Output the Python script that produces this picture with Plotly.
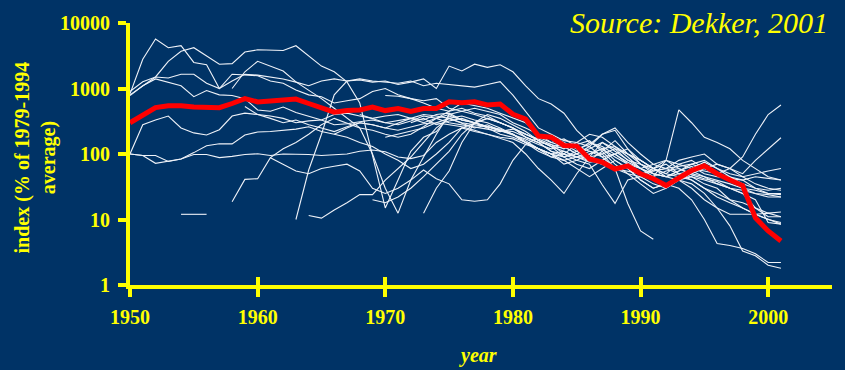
import plotly.graph_objects as go

# ---------------- data ----------------
red_start = 1950
red_mean = [300, 400, 510, 545, 545, 520, 520, 510, 590, 700,
            625, 640, 660, 690, 590, 495, 435, 460, 470, 520,
            460, 495, 445, 495, 495, 625, 605, 625, 560, 580,
            405, 340, 188, 180, 135, 132, 84, 75, 59, 66,
            50, 42, 33, 43, 56, 66, 50, 40, 33, 10.6,
            6.7, 4.7]

s01_start = 1950
s01 = [830, 2800, 5700, 4200, 4500, 2500, 2300, 1000, 1300, 1650,
       1600, 1500, 1400, 1250, 1100, 1300, 1400, 1300, 1350, 1250,
       1300, 1150, 1250, 1400, 1000, 2200, 1850, 2350, 2100, 2300,
       1800, 1100, 700, 580, 420, 230, 150, 130, 100, 75,
       60, 50, 45, 55, 70, 60, 50, 40, 30, 25,
       24, 22]
s02_start = 1950
s02 = [800, 1100, 1500, 2600, 3700, 4200, 3100, 2350, 2400, 3600,
       3900, 3900, 3800, 4500, 3100, 2200, 1800, 1260, 600, 100,
       15, 40, 110, 180, 220, 380, 330, 300, 260, 230,
       200, 150, 120, 100, 110, 90, 80, 110, 160, 100,
       70, 50, 45, 55, 65, 50, 45, 42, 40, 45,
       42, 40]
s03_start = 1950
s03 = [780, 1100, 1400, 1250, 1100, 750, 930, 800, 780, 700,
       470, 450, 520, 430, 380, 330, 280, 290, 310, 330,
       300, 320, 350, 330, 400, 420, 330, 300, 260, 230,
       220, 180, 150, 110, 100, 90, 75, 80, 60, 55,
       50, 45, 55, 60, 48, 42, 38, 30, 25, 15,
       11, 11]
s04_start = 1950
s04 = [900, 1270, 1500, 1450, 1650, 1650, 1200, 1000, 1650, 1600,
       1570, 1300, 1200, 950, 800, 750, 600, 650, 700, 900,
       1000, 800, 700, 650, 700, 500, 450, 500, 450, 400,
       300, 250, 200, 180, 150, 120, 140, 200, 250, 150,
       100, 70, 60, 80, 90, 100, 70, 60, 45, 50,
       55, 60]
s05_start = 1950
s05 = [100, 280, 330, 380, 250, 210, 195, 235, 380, 420,
       400, 380, 350, 300, 320, 330, 400, 420, 380, 350,
       380, 400, 350, 300, 350, 450, 500, 420, 380, 300,
       250, 200, 160, 130, 140, 110, 90, 100, 120, 80,
       70, 60, 50, 70, 80, 60, 50, 45, 40, 30,
       25, 25]
s06_start = 1950
s06 = [100, 95, 72, 77, 84, 105, 134, 143, 143, 195,
       217, 220, 230, 240, 260, 220, 200, 180, 150, 130,
       100, 80, 60, 70, 100, 150, 250, 300, 350, 300,
       250, 180, 150, 140, 100, 80, 70, 34, 17.6, 40,
       45, 35, 30, 40, 45, 35, 30, 20, 15, 12,
       10, 9]
s07_start = 1950
s07 = [100, 95, 95, 77, 84, 98, 98, 88, 92, 98,
       101, 95, 100, 100, 98, 95, 97, 100, 110, 115,
       108, 90, 85, 95, 150, 200, 250, 220, 200, 180,
       170, 140, 120, 100, 90, 70, 60, 80, 100, 70,
       50, 40, 35, 30, 20, 10, 4.3, 4.0, 3.6, 3.0,
       2.2, 2.2]
s08_start = 1958
s08 = [18.7, 41, 42, 88, 120, 150, 200, 280, 350, 300, 250, 230,
       200, 180, 200, 260, 350, 400, 330, 300, 260, 230,
       200, 170, 140, 120, 130, 100, 80, 70, 60, 65,
       50, 55, 60, 50, 45, 40, 35, 30, 28, 25,
       22, 22]
s09_start = 1954
s09 = [12, 12, 12]
s10_start = 1963
s10 = [10, 57, 200, 800, 1300, 1400, 1300,
       1250, 1200, 1300, 1100, 1200, 1150, 1100, 1050, 1150, 1270,
       790, 450, 250, 200, 160, 150, 130, 200, 230, 120,
       80, 60, 50, 45, 60, 75, 60, 45, 35, 30,
       28, 30]
s11_start = 1964
s11 = [11.5, 10.5, 14, 18, 24, 24,
       40, 60, 90, 150, 250, 350, 300, 250, 280, 230,
       200, 160, 120, 90, 80, 60, 45, 60, 80, 60,
       40, 30, 35, 45, 40, 30, 25, 20, 18, 15,
       12.5, 13]
s12_start = 1958
s12 = [1000, 1800, 2600, 2200, 1850, 1260, 950, 700, 500, 350, 250, 100,
       30, 12.5, 40, 90, 200, 400, 450, 400, 350, 300,
       250, 180, 150, 110, 90, 110, 150, 120, 80, 60,
       40, 30, 35, 40, 30, 20, 15, 12, 12, 12,
       12.5, 11]
s13_start = 1972
s13 = [300, 350, 280, 320, 350, 300, 250, 200,
       180, 150, 120, 100, 70, 80, 100, 120, 90, 70,
       60, 70, 80, 70, 60, 55, 50, 60, 90, 200,
       400, 560]
s14_start = 1968
s14 = [400, 350,
       300, 280, 320, 380, 350, 300, 280, 260, 240, 220,
       240, 200, 160, 130, 110, 90, 100, 120, 130, 90,
       60, 45, 80, 470, 300, 180, 150, 120, 80, 60,
       45, 40]
s15_start = 1966
s15 = [200, 250, 300, 280,
       250, 300, 350, 400, 380, 350, 300, 280, 260, 240,
       200, 150, 120, 100, 80, 90, 110, 100, 60, 17.6,
       6.7, 5]
s16_start = 1970
s16 = [180, 200, 220, 250, 300, 280, 260, 230, 200, 170,
       150, 100, 60, 40, 25, 50, 90, 150, 120, 100,
       80, 60, 70, 50, 40, 30, 22, 18, 15, 12,
       10, 8.5]
s17_start = 1961
s17 = [88, 70, 55, 50, 60, 65, 70, 55, 30,
       25, 30, 40, 57, 42, 35, 20, 19, 20, 35,
       80, 140, 180, 150, 130, 100, 120, 150, 110, 80,
       60, 50, 45, 50, 55, 45, 35, 30, 25, 20,
       9, 8.5]
s18_start = 1973
s18 = [12.5, 30, 55, 150, 300, 400, 350,
       280, 220, 160, 130, 90, 100, 130, 90, 60, 50,
       35, 25, 30, 40, 35, 25, 15, 8, 3.3, 2.8,
       2.0, 1.8]
s19_start = 1970
s19 = [780, 760, 700, 600, 500, 450, 600, 550, 500, 420,
       350, 300, 200, 150, 170, 130, 110, 90, 100, 120,
       70, 55, 60, 65, 70, 80, 60, 50, 45, 35,
       30, 28]
s20_start = 1969
s20 = [20,
       18, 22, 30, 45, 70, 110, 200, 300, 350, 300,
       250, 200, 170, 140, 120, 150, 200, 180, 130, 100,
       80, 60, 45, 40, 50, 60, 70, 60, 50, 80,
       120, 177]
s21_start = 1959
s21 = [530,
       400, 350, 300, 330, 280, 250, 220, 260, 300, 280,
       250, 230, 260, 290, 300, 350, 380, 330, 300, 250,
       200, 150, 110, 90, 100, 140, 160, 110, 70, 50,
       45, 60, 80, 60, 50, 45, 40, 35, 30, 28,
       25, 24]

white_series = [
    (s01_start, s01), (s02_start, s02), (s03_start, s03), (s04_start, s04),
    (s05_start, s05), (s06_start, s06), (s07_start, s07), (s08_start, s08),
    (s09_start, s09), (s10_start, s10), (s11_start, s11), (s12_start, s12),
    (s13_start, s13), (s14_start, s14), (s15_start, s15), (s16_start, s16),
    (s17_start, s17), (s18_start, s18), (s19_start, s19), (s20_start, s20),
    (s21_start, s21),
]

x_tick_vals = [1950, 1960, 1970, 1980, 1990, 2000]
x_tick_text = ["1950", "1960", "1970", "1980", "1990", "2000"]
y_tick_vals = [1, 10, 100, 1000, 10000]
y_tick_text = ["1", "10", "100", "1000", "10000"]

# ---------------- figure ----------------
BG = "#003366"
YEL = "#FFFF00"
FONT = "Liberation Serif"

fig = go.Figure()
for start, vals in white_series:
    fig.add_trace(go.Scatter(
        x=list(range(start, start + len(vals))), y=vals, mode="lines",
        line=dict(color="#EEF2F8", width=1.1), hoverinfo="skip", showlegend=False))

fig.add_trace(go.Scatter(
    x=list(range(red_start, red_start + len(red_mean))), y=red_mean, mode="lines",
    line=dict(color="#FF0000", width=5), xaxis="x2", hoverinfo="skip", showlegend=False))

tick_font = dict(family=FONT, size=20, color=YEL, weight="bold")

fig.update_layout(
    width=845, height=370,
    margin=dict(l=130, r=13, t=18, b=85),
    paper_bgcolor=BG, plot_bgcolor=BG,
    xaxis=dict(range=[1950, 2005], showgrid=False, zeroline=False,
               showline=True, linecolor=YEL, linewidth=4,
               ticks="outside", ticklen=8, tickwidth=4, tickcolor=YEL,
               tickvals=x_tick_vals, ticktext=x_tick_text,
               tickfont=tick_font, ticklabelstandoff=3),
    xaxis2=dict(range=[1950, 2005], overlaying="x", anchor="y", side="bottom",
                showgrid=False, zeroline=False, showline=False,
                ticks="inside", ticklen=8, tickwidth=4, tickcolor=YEL,
                tickvals=x_tick_vals, showticklabels=False),
    yaxis=dict(type="log", range=[0, 4], showgrid=False, zeroline=False,
               showline=True, linecolor=YEL, linewidth=4,
               ticks="outside", ticklen=8, tickwidth=4, tickcolor=YEL,
               tickvals=y_tick_vals, ticktext=y_tick_text,
               tickfont=tick_font, ticklabelstandoff=4),
    annotations=[
        dict(text="Source: Dekker, 2001", xref="paper", yref="paper",
             x=(568 - 130) / 702, y=(285 - 17) / 267, xanchor="left", yanchor="middle",
             showarrow=False,
             font=dict(family=FONT, size=30, color=YEL, style="italic")),
        dict(text="index (% of 1979-1994<br>average)", xref="paper", yref="paper",
             x=(35 - 130) / 702, y=(285 - 155) / 267, xanchor="center", yanchor="middle",
             textangle=-90, showarrow=False,
             font=dict(family=FONT, size=20, color=YEL, weight="bold")),
        dict(text="year", xref="paper", yref="paper",
             x=(478 - 130) / 702, y=(285 - 357) / 267, xanchor="center", yanchor="middle",
             showarrow=False,
             font=dict(family=FONT, size=20, color=YEL, weight="bold", style="italic")),
    ],
)

fig.write_html("out.html",
               config={"displayModeBar": False},
               post_script="document.body.style.margin='0';document.body.style.overflow='hidden';")
